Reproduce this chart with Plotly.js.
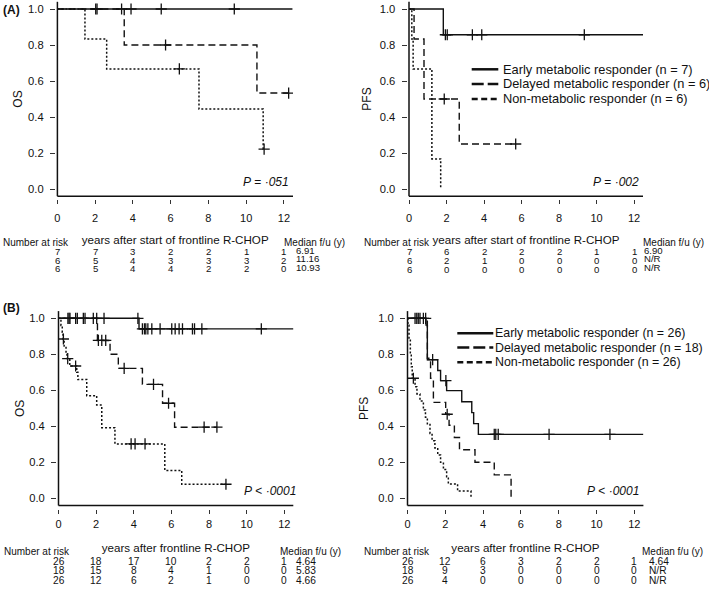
<!DOCTYPE html>
<html>
<head>
<meta charset="utf-8">
<script src="https://cdn.plot.ly/plotly-3.0.1.min.js"></script>
<style>html,body{margin:0;padding:0;background:#fff;}#chart{width:709px;height:595px;}</style>
</head>
<body>
<div id="chart"></div>
<script>
// ---------- DATA ----------
const years = [0, 2, 4, 6, 8, 10, 12];
const yTicks = [0, 0.2, 0.4, 0.6, 0.8, 1.0];
const yTickText = ['0.0', '0.2', '0.4', '0.6', '0.8', '1.0'];
const groupNamesA = ['Early metabolic responder (n = 7)', 'Delayed metabolic responder (n = 6)', 'Non-metabolic responder (n = 6)'];
const groupNamesB = ['Early metabolic responder (n = 26)', 'Delayed metabolic responder (n = 18)', 'Non-metabolic responder (n = 26)'];

// Panel A - OS
const aOsEarlyT = [0, 12.45];
const aOsEarlyS = [1, 1];
const aOsEarlyCensT = [2.03, 2.1, 3.4, 3.9, 5.5, 9.37];
const aOsEarlyCensS = [1, 1, 1, 1, 1, 1];
const aOsDelayedT = [0, 3.54, 10.57, 12.25];
const aOsDelayedS = [1, 0.8, 0.533, 0.533];
const aOsDelayedCensT = [5.73, 12.25];
const aOsDelayedCensS = [0.8, 0.533];
const aOsNonT = [0, 1.46, 2.61, 7.5, 10.9, 10.95];
const aOsNonS = [1, 0.833, 0.667, 0.444, 0.222, 0.222];
const aOsNonCensT = [6.46, 10.95];
const aOsNonCensS = [0.667, 0.222];

// Panel A - PFS
const aPfsEarlyT = [0, 1.83, 12.48];
const aPfsEarlyS = [1, 0.857, 0.857];
const aPfsEarlyCensT = [1.94, 2.04, 3.38, 3.88, 9.35];
const aPfsEarlyCensS = [0.857, 0.857, 0.857, 0.857, 0.857];
const aPfsDelayedT = [0, 0.27, 0.8, 2.68, 5.69];
const aPfsDelayedS = [1, 0.833, 0.5, 0.25, 0.25];
const aPfsDelayedCensT = [1.88, 5.69];
const aPfsDelayedCensS = [0.5, 0.25];
const aPfsNonT = [0, 0.15, 0.22, 1.22, 1.69];
const aPfsNonS = [1, 0.833, 0.667, 0.167, 0];

// Panel B - OS
const bOsEarlyT = [0, 4.28, 12.5];
const bOsEarlyS = [1, 0.941, 0.941];
const bOsEarlyCensT = [0.5, 0.56, 0.61, 0.91, 1.0, 1.32, 1.41, 1.85, 2.03, 2.42, 4.22,
                       4.46, 4.57, 4.64, 4.75, 4.96, 5.4, 6.02, 6.2, 6.41, 6.59, 7.12, 7.23, 7.62, 10.78];
const bOsEarlyCensS = [1, 1, 1, 1, 1, 1, 1, 1, 1, 1, 1,
                       0.941, 0.941, 0.941, 0.941, 0.941, 0.941, 0.941, 0.941, 0.941, 0.941, 0.941, 0.941, 0.941, 0.941];
const bOsDelayedT = [0, 2.07, 2.74, 3.18, 4.46, 5.53, 6.17, 8.42];
const bOsDelayedS = [1, 0.877, 0.80, 0.722, 0.633, 0.528, 0.395, 0.395];
const bOsDelayedCensT = [2.12, 2.3, 2.51, 3.49, 5.05, 5.85, 7.74, 8.42];
const bOsDelayedCensS = [0.877, 0.877, 0.877, 0.722, 0.633, 0.528, 0.395, 0.395];
const bOsNonT = [0, 0.13, 0.2, 0.24, 0.3, 0.4, 0.45, 0.6, 0.97, 1.03, 1.5, 2.03, 2.3, 3.0, 5.65, 6.55, 8.9];
const bOsNonS = [1, 0.96, 0.923, 0.885, 0.846, 0.808, 0.776, 0.735, 0.70, 0.66, 0.57, 0.518, 0.392, 0.302, 0.155, 0.078, 0.078];
const bOsNonCensT = [0.26, 0.49, 0.91, 3.86, 4.07, 4.6, 8.9];
const bOsNonCensS = [0.885, 0.776, 0.735, 0.302, 0.302, 0.302, 0.078];

// Panel B - PFS
const bPfsEarlyT = [0, 0.98, 1.05, 1.6, 1.75, 2.07, 2.87, 3.4, 3.5, 3.75, 12.48];
const bPfsEarlyS = [1, 0.962, 0.77, 0.71, 0.654, 0.598, 0.536, 0.476, 0.415, 0.355, 0.355];
const bPfsEarlyCensT = [0.4, 0.49, 0.57, 0.66, 0.84, 0.96, 1.33, 2.03, 4.59, 4.67, 4.8, 7.49, 10.71];
const bPfsEarlyCensS = [1, 1, 1, 1, 1, 1, 0.77, 0.654, 0.355, 0.355, 0.355, 0.355, 0.355];
const bPfsDelayedT = [0, 1.05, 1.22, 1.37, 2.02, 2.2, 2.48, 2.75, 3.57, 4.59, 5.48];
const bPfsDelayedS = [1, 0.778, 0.667, 0.533, 0.467, 0.406, 0.338, 0.27, 0.2, 0.13, 0];
const bPfsDelayedCensT = [2.1];
const bPfsDelayedCensS = [0.467];
const bPfsNonT = [0, 0.02, 0.08, 0.15, 0.2, 0.25, 0.4, 0.5, 0.66, 0.84, 0.95, 1.05, 1.19, 1.3, 1.45, 1.6, 1.75, 1.9, 2.07, 2.16, 2.65, 3.36];
const bPfsNonS = [1, 0.962, 0.885, 0.808, 0.731, 0.667, 0.62, 0.58, 0.54, 0.49, 0.45, 0.41, 0.36, 0.32, 0.28, 0.24, 0.2, 0.16, 0.12, 0.08, 0.04, 0];
const bPfsNonCensT = [0.31];
const bPfsNonCensS = [0.667];

// Numbers at risk (rows: early, delayed, non) and median follow-up
const aOsRisk = [[7, 7, 3, 2, 2, 1, 1], [6, 5, 4, 3, 3, 3, 2], [6, 5, 4, 4, 2, 2, 0]];
const aOsMedian = ['6.91', '11.16', '10.93'];
const aPfsRisk = [[7, 6, 2, 2, 2, 1, 1], [6, 2, 1, 0, 0, 0, 0], [6, 0, 0, 0, 0, 0, 0]];
const aPfsMedian = ['6.90', 'N/R', 'N/R'];
const bOsRisk = [[26, 18, 17, 10, 2, 2, 1], [18, 15, 8, 4, 1, 0, 0], [26, 12, 6, 2, 1, 0, 0]];
const bOsMedian = ['4.64', '5.83', '4.66'];
const bPfsRisk = [[26, 12, 6, 3, 2, 2, 1], [18, 9, 3, 0, 0, 0, 0], [26, 4, 0, 0, 0, 0, 0]];
const bPfsMedian = ['4.64', 'N/R', 'N/R'];

// ---------- LAYOUT / STYLE ----------
const W = 709, H = 595;
const FONT = 'Liberation Sans, Arial, Helvetica, sans-serif';
const INK = '#111';
const fx = p => p / W;
const fy = p => 1 - p / H;

const panels = [
  {k: '', x0: 57.4, x1: 293.0, yTop: 1.8, yBot: 196.2, ytitle: 'OS', xtitle: 'years after start of frontline R-CHOP', lab: 5, stand: 12, ystand: 1},
  {k: '2', x0: 409.0, x1: 643.0, yTop: 1.8, yBot: 196.2, ytitle: 'PFS', xtitle: 'years after start of frontline R-CHOP', lab: 5, stand: 12, ystand: 4},
  {k: '3', x0: 58.5, x1: 293.3, yTop: 311.1, yBot: 505.5, ytitle: 'OS', xtitle: 'years after frontline R-CHOP', lab: 1, stand: 15, ystand: 0},
  {k: '4', x0: 407.5, x1: 643.4, yTop: 311.1, yBot: 505.5, ytitle: 'PFS', xtitle: 'years after frontline R-CHOP', lab: 1, stand: 15, ystand: 5}
];

const styles = {
  early: {color: INK, width: 1.4},
  delayed: {color: INK, width: 1.4, dash: '7px,4px'},
  non: {color: INK, width: 1.5, dash: '2px,2px'}
};

const traces = [];
function curve(k, T, S, style) {
  traces.push({type: 'scatter', mode: 'lines', x: T, y: S, xaxis: 'x' + k, yaxis: 'y' + k,
    line: Object.assign({shape: 'hv'}, style), showlegend: false, hoverinfo: 'skip'});
}
function cens(k, T, S) {
  traces.push({type: 'scatter', mode: 'markers', x: T, y: S, xaxis: 'x' + k, yaxis: 'y' + k,
    marker: {symbol: 'cross-thin', size: 8, color: INK, line: {color: INK, width: 1.3}},
    showlegend: false, hoverinfo: 'skip'});
}

curve('', aOsEarlyT, aOsEarlyS, styles.early); cens('', aOsEarlyCensT, aOsEarlyCensS);
curve('', aOsDelayedT, aOsDelayedS, styles.delayed); cens('', aOsDelayedCensT, aOsDelayedCensS);
curve('', aOsNonT, aOsNonS, styles.non); cens('', aOsNonCensT, aOsNonCensS);

curve('2', aPfsEarlyT, aPfsEarlyS, styles.early); cens('2', aPfsEarlyCensT, aPfsEarlyCensS);
curve('2', aPfsDelayedT, aPfsDelayedS, styles.delayed); cens('2', aPfsDelayedCensT, aPfsDelayedCensS);
curve('2', aPfsNonT, aPfsNonS, styles.non);

curve('3', bOsEarlyT, bOsEarlyS, styles.early); cens('3', bOsEarlyCensT, bOsEarlyCensS);
curve('3', bOsDelayedT, bOsDelayedS, styles.delayed); cens('3', bOsDelayedCensT, bOsDelayedCensS);
curve('3', bOsNonT, bOsNonS, styles.non); cens('3', bOsNonCensT, bOsNonCensS);

curve('4', bPfsEarlyT, bPfsEarlyS, styles.early); cens('4', bPfsEarlyCensT, bPfsEarlyCensS);
curve('4', bPfsDelayedT, bPfsDelayedS, styles.delayed); cens('4', bPfsDelayedCensT, bPfsDelayedCensS);
curve('4', bPfsNonT, bPfsNonS, styles.non); cens('4', bPfsNonCensT, bPfsNonCensS);

const layout = {
  width: W, height: H,
  margin: {l: 0, r: 0, t: 0, b: 0},
  paper_bgcolor: '#fff', plot_bgcolor: 'rgba(0,0,0,0)',
  font: {family: FONT, color: INK, size: 11},
  showlegend: false,
  annotations: [], shapes: []
};

panels.forEach(p => {
  layout['xaxis' + p.k] = {
    domain: [fx(p.x0), fx(p.x1)], range: [0, 12.48],
    anchor: 'free', position: fy(p.yBot + 3),
    tickvals: years, ticktext: years.map(String),
    ticks: 'outside', ticklen: 4, tickwidth: 1, tickcolor: '#333',
    ticklabelstandoff: p.lab,
    showline: false, showgrid: false, zeroline: false, fixedrange: true,
    tickfont: {size: 11, family: FONT, color: INK},
    title: {text: p.xtitle, font: {size: 11.6, family: FONT, color: INK}, standoff: p.stand}
  };
  layout['yaxis' + p.k] = {
    domain: [fy(p.yBot), fy(p.yTop)], range: [-0.04, 1.04],
    anchor: 'free', position: fx(p.x0 - 2.5),
    tickvals: yTicks, ticktext: yTickText,
    ticks: 'outside', ticklen: 5, tickwidth: 1, tickcolor: '#333',
    ticklabelstandoff: 4,
    showline: false, showgrid: false, zeroline: false, fixedrange: true,
    tickfont: {size: 11.2, family: FONT, color: INK},
    title: {text: p.ytitle, font: {size: 12, family: FONT, color: INK}, standoff: p.ystand}
  };
  const xr = 'x' + p.k + ' domain', yr = 'y' + p.k + ' domain';
  layout.shapes.push({type: 'line', xref: xr, yref: yr, x0: 0, x1: 1, y0: 0, y1: 0, line: {color: INK, width: 1.5}});
  layout.shapes.push({type: 'line', xref: xr, yref: yr, x0: 0, x1: 0, y0: 0, y1: 1, line: {color: INK, width: 1.5}});
});

function txt(x, y, text, opts) {
  layout.annotations.push(Object.assign({xref: 'paper', yref: 'paper', x: fx(x), y: fy(y), text: text,
    showarrow: false, xanchor: 'left', yanchor: 'middle', borderpad: 0,
    font: {size: 10, family: FONT, color: INK}}, opts || {}));
}

// Risk tables
function riskTable(k, rows, medians, rowY, medY, medX, headX, nrX, headY, fs) {
  const rowFont = {size: fs, family: FONT, color: INK};
  txt(nrX, headY, 'Number at risk');
  txt(headX, headY, 'Median f/u (y)');
  rows.forEach((row, r) => {
    row.forEach((v, i) => {
      layout.annotations.push({xref: 'x' + k, yref: 'paper', x: years[i], y: fy(rowY[r]), text: String(v),
        showarrow: false, xanchor: 'center', yanchor: 'middle', borderpad: 0, font: rowFont});
    });
    txt(medX, medY[r], medians[r], {font: rowFont});
  });
}
riskTable('', aOsRisk, aOsMedian, [251.7, 260.2, 269], [250.2, 258.6, 267.4], 295, 283, 1.5, 242.5, 9.6);
riskTable('2', aPfsRisk, aPfsMedian, [251.7, 260.5, 269.6], [250.2, 258.6, 267.4], 643, 641.5, 363, 242, 9.6);
riskTable('3', bOsRisk, bOsMedian, [561.3, 570.7, 580], [561.3, 570.7, 580], 295, 279, 2.5, 551.7, 10.2);
riskTable('4', bPfsRisk, bPfsMedian, [561.5, 570.7, 580], [561.5, 570.7, 580], 648, 640.5, 363, 551.7, 10.2);

// P values
const pFont = {size: 12, family: FONT, color: INK};
txt(290, 181.5, '<i>P</i> = <i>·051</i>', {xanchor: 'right', font: pFont});
txt(640, 181.5, '<i>P</i> = <i>·002</i>', {xanchor: 'right', font: pFont});
txt(296.5, 490.7, '<i>P</i> < <i>·0001</i>', {xanchor: 'right', font: pFont});
txt(640, 491.5, '<i>P</i> < <i>·0001</i>', {xanchor: 'right', font: pFont});

// Panel labels
txt(2, 10, '<b>(A)</b>', {font: {size: 12, family: FONT, color: INK}});
txt(2, 308, '<b>(B)</b>', {font: {size: 12, family: FONT, color: INK}});

// Legends (drawn manually)
function legend(names, sx0, sx1, tx, ys, fs) {
  const dashes = ['solid', '12px,4px', '6px,3.5px'];
  names.forEach((n, i) => {
    layout.shapes.push({type: 'line', xref: 'paper', yref: 'paper', x0: fx(sx0), x1: fx(sx1), y0: fy(ys[i]), y1: fy(ys[i]),
      line: {color: INK, width: 2.5, dash: dashes[i]}});
    txt(tx, ys[i], n, {font: {size: fs, family: FONT, color: INK}});
  });
}
legend(groupNamesA, 471.7, 498.3, 501.5, [69.3, 84, 99], 12.8);
legend(groupNamesB, 457.3, 493.3, 493.5, [333.3, 347.5, 362.3], 12.4);

Plotly.newPlot('chart', traces, layout, {staticPlot: true, displayModeBar: false});
</script>
</body>
</html>
